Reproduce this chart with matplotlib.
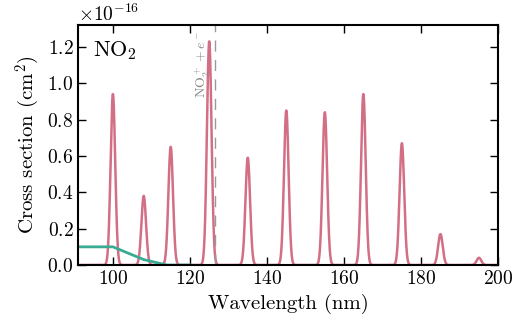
import numpy as np
import matplotlib
matplotlib.use('Agg')
import matplotlib.pyplot as plt

plt.rcParams['font.family'] = 'serif'
plt.rcParams['font.serif'] = ['cmr10']
plt.rcParams['mathtext.fontset'] = 'cm'
plt.rcParams['axes.formatter.use_mathtext'] = True

# Photoionisation line centres (nm) and peak cross sections (1e-16 cm^2)
peak_centres = [100, 108, 115, 125, 135, 145, 155, 165, 175, 185, 195]
peak_heights = [0.94, 0.38, 0.65, 1.23, 0.59, 0.85, 0.84, 0.94, 0.67, 0.17, 0.04]
peak_sigma = 0.6

# Continuum cross section
cont_wl = [91, 100, 108, 114, 120]
cont_xs = [0.10, 0.10, 0.03, 0.0, 0.0]

threshold_wl = 126.6
scale = 1e-16

wl = np.linspace(91, 200, 3000)
xs = np.zeros_like(wl)
for c, h in zip(peak_centres, peak_heights):
    xs += h * np.exp(-0.5 * ((wl - c) / peak_sigma) ** 2)

fig, ax = plt.subplots(figsize=(5.25, 3.24), dpi=100)
ax.plot(wl, xs * scale, color='#cf5f78', lw=1.8, alpha=0.9)
ax.plot(cont_wl, np.array(cont_xs) * scale, color='#3aab93', lw=2)
ax.axvline(threshold_wl, color='#999999', ls=(0, (8, 6)), lw=1)
ax.text(threshold_wl - 0.9, 1.29e-16, r'NO$_2^+ + e^-$', rotation=90,
        color='#888888', fontsize=10, ha='right', va='top')
ax.text(0.035, 0.94, r'NO$_2$', transform=ax.transAxes, fontsize=16,
        ha='left', va='top')

ax.set_xlim(91, 200)
ax.set_ylim(0, 1.32e-16)
ax.set_xticks([100, 120, 140, 160, 180, 200])
ax.set_yticks(np.arange(0, 1.3, 0.2) * scale)
ax.tick_params(direction='in', top=True, right=True, labelsize=14,
               length=6, width=1)
for s in ax.spines.values():
    s.set_linewidth(1.5)
ax.set_xlabel('Wavelength (nm)', fontsize=15)
ax.set_ylabel(r'Cross section (cm$^2$)', fontsize=15)
ax.yaxis.get_offset_text().set_fontsize(14)

fig.subplots_adjust(left=0.149, right=0.949, bottom=0.182, top=0.923)
fig.savefig('out.png', dpi=100)
